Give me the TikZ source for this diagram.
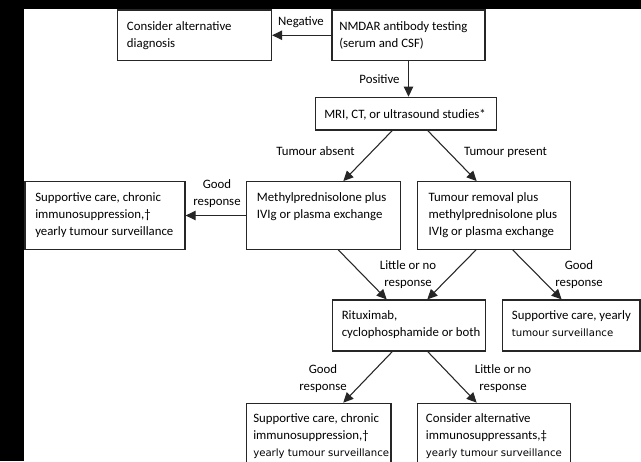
\documentclass[tikz,border=0pt]{standalone}
\usepackage{fontspec}
\setmainfont{Carlito}
\newfontfamily\altfont{DejaVu Sans}
\usetikzlibrary{arrows.meta}
\newcommand\mlines[1]{\begin{tabular}[t]{@{}l@{}}#1\end{tabular}}
\newcommand\clines[1]{\begin{tabular}[t]{@{}c@{}}#1\end{tabular}}
\newcommand\alt[1]{{\altfont\fontsize{7.6pt}{12.75pt}\selectfont #1}}
\newcommand\boxnode[5]{%
  \node[boxst, minimum width={(#4-#2)*0.75pt}, minimum height={(#5-#3)*0.75pt}]
    (#1) at ({(#2+#4)/2},{(#3+#5)/2}) {};}
\tikzset{
  boxst/.style={draw=black!85, line width=0.9pt, fill=white, inner sep=0pt},
  txt/.style={inner sep=0pt, anchor=base west, text=black,
    font=\fontsize{9.6pt}{12.75pt}\selectfont},
  lbl/.style={inner sep=0pt, anchor=base, text=black,
    font=\fontsize{9.6pt}{12.75pt}\selectfont},
  arr/.style={draw=black!85, line width=0.8pt, -{Triangle[length=7.5pt,width=7pt]}}
}
\begin{document}
\begin{tikzpicture}[x=0.75pt, y=-0.75pt]
\useasboundingbox (0,0) rectangle (641,461);
\fill[black] (0,0) rectangle (641,461);
\fill[white] (24,9) rectangle (641,461);
\clip (0,0) rectangle (641,461);

% boxes
\boxnode{alt}{117.5}{10}{271.5}{60.5}
\boxnode{nmdar}{332}{10}{485}{60.5}
\boxnode{mri}{315.7}{97.3}{496.7}{130}
\boxnode{supL}{25}{181.7}{185}{249.3}
\boxnode{meth}{246.7}{181.7}{400.7}{249.3}
\boxnode{tum}{417.7}{181.7}{570.7}{249.3}
\boxnode{rit}{332.3}{300}{485.5}{351}
\boxnode{supR}{502.3}{300}{640}{351}
\boxnode{bl}{246.7}{403.3}{391}{480}
\boxnode{br}{417.7}{403.3}{570.7}{480}

% box texts
\node[txt] (altT) at (126.7,30) {\mlines{Consider alternative\\diagnosis}};
\node[txt] (nmdarT) at (339,30) {\mlines{NMDAR antibody testing\\(serum and CSF)}};
\node[txt] (mriT) at (324,118) {MRI, CT, or ultrasound studies*};
\node[txt] (supLT) at (35,201.7) {\mlines{Supportive care, chronic\\immunosuppression,†\\yearly tumour surveillance}};
\node[txt] (methT) at (256.7,201.7) {\mlines{Methylprednisolone plus\\IVIg or plasma exchange}};
\node[txt] (tumT) at (428.3,201.7) {\mlines{Tumour removal plus\\methylprednisolone plus\\IVIg or plasma exchange}};
\node[txt] (ritT) at (341.5,319) {\mlines{Rituximab,\\cyclophosphamide or both}};
\node[txt] (supRT) at (511.7,319) {\mlines{Supportive care, yearly\\\alt{tumour surveillance}}};
\node[txt] (blT) at (253,422.3) {\mlines{Supportive care, chronic\\immunosuppression,†\\\alt{yearly tumour surveillance}}};
\node[txt] (brT) at (425.7,422.3) {\mlines{Consider alternative\\immunosuppressants,‡\\\alt{yearly tumour surveillance}}};

% connectors
\draw[arr] (nmdar.west) -- (alt.east);
\draw[arr] (nmdar.south) -- (nmdar.south |- mri.north);
\draw[arr] ([shift={(-14,0)}]mri.south) -- ([shift={(19.6,0)}]meth.north);
\draw[arr] ([shift={(21.5,0)}]mri.south) -- ([shift={(-17.5,0)}]tum.north);
\draw[arr] (meth.west) -- (supL.east);
\draw[arr] ([shift={(14.6,0)}]meth.south) -- ([shift={(-22.2,0)}]rit.north);
\draw[arr] ([shift={(-18.2,0)}]tum.south) -- ([shift={(18.4,0)}]rit.north);
\draw[arr] ([shift={(18.5,0)}]tum.south) -- ([shift={(-9.5,0)}]supR.north);
\draw[arr] ([shift={(-16.6,0)}]rit.south) -- ([shift={(24.4,0)}]bl.north);
\draw[arr] ([shift={(18.8,0)}]rit.south) -- ([shift={(-17.5,0)}]br.north);

% connector labels
\node[lbl] (negL) at (301,25.7) {Negative};
\node[lbl] (posL) at (379.5,83) {Positive};
\node[lbl] (absL) at (315.5,155.7) {Tumour absent};
\node[lbl] (preL) at (505.5,155.7) {Tumour present};
\node[lbl] (goodL1) at (217,188) {\clines{Good\\response}};
\node[lbl] (littleL1) at (408,269) {\clines{Little or no\\response}};
\node[lbl] (goodL2) at (579,269) {\clines{Good\\response}};
\node[lbl] (goodL3) at (323,373) {\clines{Good\\response}};
\node[lbl] (littleL2) at (503,373) {\clines{Little or no\\response}};
\end{tikzpicture}
\end{document}
